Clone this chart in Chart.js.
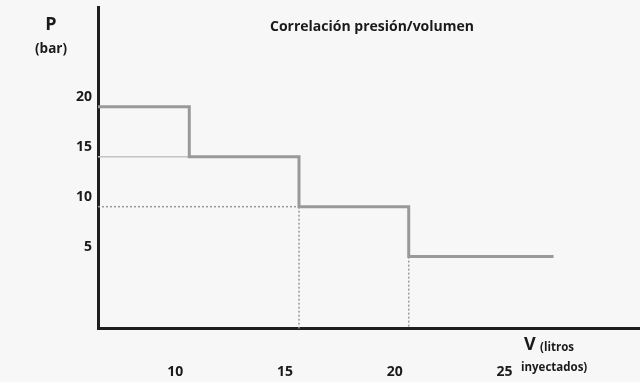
<!DOCTYPE html>
<html><head><meta charset="utf-8">
<script src="https://cdn.jsdelivr.net/npm/chart.js@4"></script>
<style>html,body{margin:0;padding:0;background:#f7f7f7;} #wrap{width:640px;height:382px;position:relative;}</style>
</head><body><div id="wrap"><canvas id="c"></canvas></div>
<script>
// Data
const pressureLevels = [20, 15, 10, 5];          // bar
const volumeBreaks = [10, 15, 20];               // litros where pressure drops
const volumeEnd = 26.6;                           // end of last level
const xTickValues = [10, 15, 20, 25];
const yTickValues = [5, 10, 15, 20];
const xRange = [5.84, 30.54];
const yRange = [-2.2, 30];
const titleText = 'Correlación presión/volumen';
const yLabelMain = 'P';
const yLabelUnit = '(bar)';
const xLabelMain = 'V';
const xLabelUnit1 = '(litros';
const xLabelUnit2 = 'inyectados)';

const ends = [...volumeBreaks, volumeEnd];
const stepPts = [];
pressureLevels.forEach((p, i) => {
  stepPts.push({x: i === 0 ? xRange[0] : volumeBreaks[i - 1], y: p});
  stepPts.push({x: ends[i], y: p});
});
const ref15 = [{x: xRange[0], y: pressureLevels[1]}, {x: volumeBreaks[0], y: pressureLevels[1]}];
const ref10 = [{x: xRange[0], y: pressureLevels[2]}, {x: volumeBreaks[1], y: pressureLevels[2]}];
const refV1 = [{x: volumeBreaks[1], y: pressureLevels[2]}, {x: volumeBreaks[1], y: yRange[0]}];
const refV2 = [{x: volumeBreaks[2], y: pressureLevels[3]}, {x: volumeBreaks[2], y: yRange[0]}];

const FONT = '"Open Sans", Lato, sans-serif';
const TXT = '#1a1a1a';

const bgPlugin = {
  id: 'bg',
  beforeDraw(chart) {
    const ctx = chart.ctx;
    ctx.save(); ctx.fillStyle = '#f7f7f7';
    ctx.fillRect(0, 0, chart.width, chart.height); ctx.restore();
  }
};
const textPlugin = {
  id: 'texts',
  afterDraw(chart) {
    const ctx = chart.ctx;
    ctx.save();
    ctx.fillStyle = TXT;
    ctx.textBaseline = 'alphabetic';
    ctx.textAlign = 'center';
    ctx.font = 'bold 18px ' + FONT; ctx.fillText(yLabelMain, 51, 30);
    ctx.font = 'bold 13.5px ' + FONT; ctx.fillText(yLabelUnit, 51, 53);
    ctx.textAlign = 'left';
    ctx.font = 'bold 14px ' + FONT; ctx.fillText(titleText, 270, 31);
    ctx.font = 'bold 18px ' + FONT; ctx.fillText(xLabelMain, 524, 350);
    ctx.font = 'bold 11.5px ' + FONT; ctx.fillText(xLabelUnit1, 540, 351);
    ctx.font = 'bold 11.5px ' + FONT; ctx.fillText(xLabelUnit2, 521, 371);
    ctx.restore();
  }
};

const dotted = {showLine: true, pointRadius: 0, borderColor: '#9a9a9a', borderWidth: 1.5, borderDash: [2, 2], fill: false, clip: false};

new Chart(document.getElementById('c'), {
  type: 'scatter',
  data: {
    datasets: [
      {data: stepPts, showLine: true, pointRadius: 0, borderColor: '#999999', borderWidth: 3, fill: false, clip: false},
      Object.assign({data: ref15}, dotted, {borderDash: [], borderColor: '#c4c4c4', borderWidth: 1.5}),
      Object.assign({data: ref10}, dotted),
      Object.assign({data: refV1}, dotted),
      Object.assign({data: refV2}, dotted)
    ]
  },
  options: {
    responsive: true,
    maintainAspectRatio: false,
    animation: false,
    layout: {padding: {top: 7, right: 0, left: 0, bottom: 0}},
    plugins: {legend: {display: false}, tooltip: {enabled: false}, title: {display: false}},
    scales: {
      x: {
        type: 'linear', min: xRange[0], max: xRange[1],
        grid: {display: false, drawTicks: false},
        border: {display: true, color: '#1e1e1e', width: 3},
        afterBuildTicks: s => { s.ticks = xTickValues.map(v => ({value: v})); },
        afterFit: s => { s.height = 53.5; s.paddingLeft = 0; s.paddingRight = 0; },
        ticks: {color: TXT, font: {family: FONT, size: 14, weight: 'bold'}, padding: 35, labelOffset: -14, maxRotation: 0, autoSkip: false}
      },
      y: {
        type: 'linear', min: yRange[0], max: yRange[1],
        grid: {display: false, drawTicks: false},
        border: {display: true, color: '#1e1e1e', width: 3},
        afterBuildTicks: s => { s.ticks = yTickValues.map(v => ({value: v})); },
        afterFit: s => { s.width = 98; s.paddingTop = 0; s.paddingBottom = 0; },
        ticks: {color: TXT, font: {family: FONT, size: 14, weight: 'bold'}, padding: 6, labelOffset: -10, autoSkip: false}
      }
    }
  },
  plugins: [bgPlugin, textPlugin]
});
</script>
</body></html>
